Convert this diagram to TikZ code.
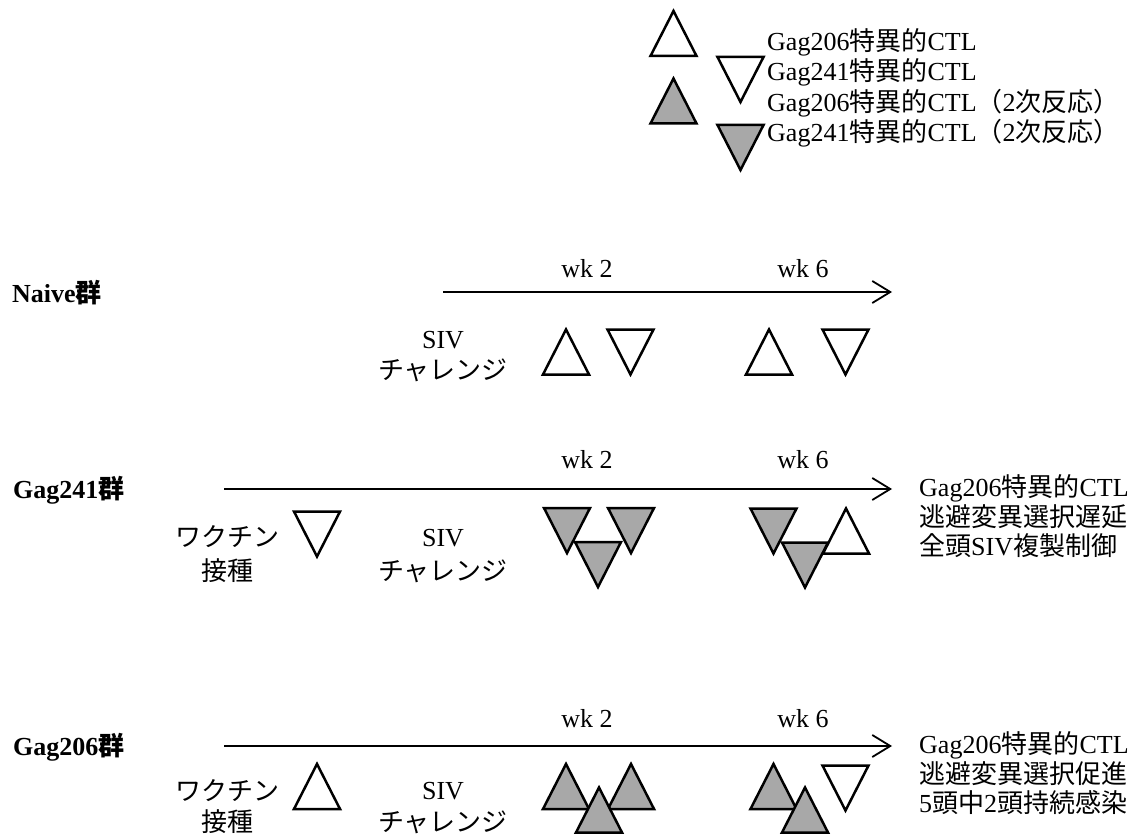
\documentclass[tikz,border=0pt]{standalone}
\usepackage{fontspec}
\setmainfont{Liberation Serif}
\newfontfamily\jp{Noto Sans CJK JP}
\usetikzlibrary{arrows.meta}

\definecolor{cellgray}{RGB}{168,168,168}

\tikzset{
  every node/.style={font=\fontsize{26}{30}\selectfont, inner sep=0pt},
  lbl/.style={anchor=west},
  grp/.style={anchor=west, font=\fontsize{26}{30}\selectfont\bfseries},
  tri/.style={line width=2.5pt, line join=miter, draw=black},
  timeline/.style={line width=2pt, -{Straight Barb[length=18pt,width=22pt,line width=1.8pt]}},
  up/.pic={\path[tri,pic actions] (-23,22.5) -- (0,-22.5) -- (23,22.5) -- cycle;},
  down/.pic={\path[tri,pic actions] (-23,-22.5) -- (0,22.5) -- (23,-22.5) -- cycle;},
  open/.style={fill=white},
  shaded/.style={fill=cellgray},
}

\begin{document}
\begin{tikzpicture}[x=1pt,y=-1pt]
\useasboundingbox[fill=white] (0,0) rectangle (1140,837);

% ---------- legend ----------
\pic[open]   at (673.5,33.5) {up};
\pic[open]   at (740.5,79.5) {down};
\pic[shaded] at (673.5,101)  {up};
\pic[shaded] at (740.5,147.5) {down};
\node[lbl] (leg1) at (767,42)  {Gag206{\jp 特異的}CTL};
\node[lbl] (leg2) at (767,72)  {Gag241{\jp 特異的}CTL};
\node[lbl] (leg3) at (767,103) {Gag206{\jp 特異的}CTL{\jp （}2{\jp 次反応）}};
\node[lbl] (leg4) at (767,133) {Gag241{\jp 特異的}CTL{\jp （}2{\jp 次反応）}};

% ---------- Naive group ----------
\node[grp] (naive) at (12,293) {Naive{\jp\bfseries 群}};
\coordinate (na) at (443,292);
\coordinate (nb) at (892,292);
\draw[timeline] (na) -- (nb);
\node (nwk2) at (587,269) {wk 2};
\node (nwk6) at (803,269) {wk 6};
\node (nsiv) at (443,340) {SIV};
\node (nch)  at (443,370) {\jp チャレンジ};
\pic[open] at (566,352)   {up};
\pic[open] at (630.5,352) {down};
\pic[open] at (769,352)   {up};
\pic[open] at (845.5,352) {down};

% ---------- Gag241 group ----------
\node[grp] (g241) at (13,490) {Gag241{\jp\bfseries 群}};
\coordinate (ga) at (224,489);
\coordinate (gb) at (892,489);
\draw[timeline] (ga) -- (gb);
\node (gwk2) at (587,460) {wk 2};
\node (gwk6) at (803,460) {wk 6};
\node (gvac) at (227,537) {\jp ワクチン};
\node (gset) at (227,571) {\jp 接種};
\pic[open] at (317,534) {down};
\node (gsiv) at (443,538) {SIV};
\node (gch)  at (443,571) {\jp チャレンジ};
% week 2
\pic[shaded] at (567,530.5) {down};
\pic[shaded] at (631,530.5) {down};
\pic[shaded] at (598,564.5) {down};
% week 6
\pic[open]   at (846,531)   {up};
\pic[shaded] at (773.5,531) {down};
\pic[shaded] at (805,565)   {down};
\node[lbl] (gr1) at (919,488) {Gag206{\jp 特異的}CTL};
\node[lbl] (gr2) at (919,517) {\jp 逃避変異選択遅延};
\node[lbl] (gr3) at (919,546) {{\jp 全頭}SIV{\jp 複製制御}};

% ---------- Gag206 group ----------
\node[grp] (g206) at (13,747) {Gag206{\jp\bfseries 群}};
\coordinate (ha) at (224,746);
\coordinate (hb) at (892,746);
\draw[timeline] (ha) -- (hb);
\node (hwk2) at (587,719) {wk 2};
\node (hwk6) at (803,719) {wk 6};
\node (hvac) at (227,791) {\jp ワクチン};
\node (hset) at (227,822) {\jp 接種};
\pic[open] at (317,786.5) {up};
\node (hsiv) at (443,791) {SIV};
\node (hch)  at (443,822) {\jp チャレンジ};
% week 2
\pic[shaded] at (566,786.5) {up};
\pic[shaded] at (631,786.5) {up};
\pic[shaded] at (599,810)   {up};
% week 6
\pic[open]   at (845.5,788) {down};
\pic[shaded] at (773.5,786.5) {up};
\pic[shaded] at (805,810)   {up};
\node[lbl] (hr1) at (919,745) {Gag206{\jp 特異的}CTL};
\node[lbl] (hr2) at (919,774) {\jp 逃避変異選択促進};
\node[lbl] (hr3) at (919,803) {5{\jp 頭中}2{\jp 頭持続感染}};
\end{tikzpicture}
\end{document}
